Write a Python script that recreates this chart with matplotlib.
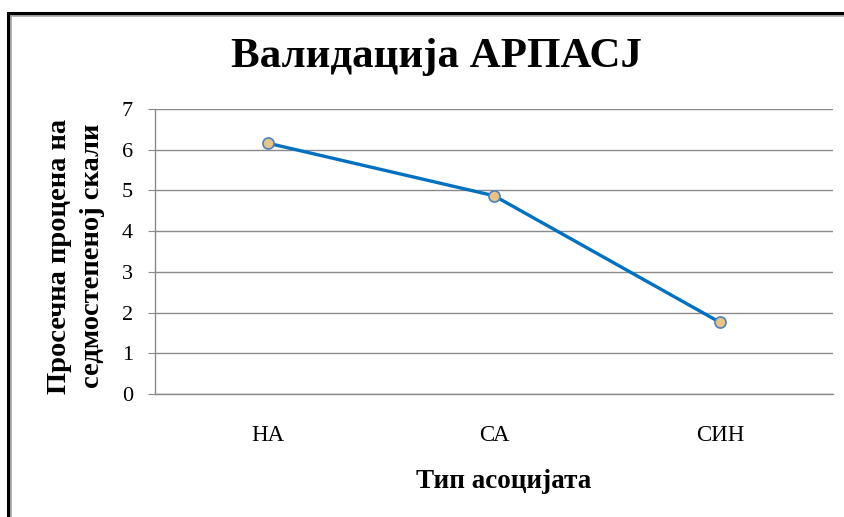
import matplotlib.pyplot as plt
from matplotlib.patches import Rectangle

# подаци
categories = ['НА', 'СА', 'СИН']
values = [6.16, 4.87, 1.76]
y_ticks = [0, 1, 2, 3, 4, 5, 6, 7]

plt.rcParams['font.family'] = ['Liberation Serif', 'DejaVu Serif']

fig = plt.figure(figsize=(8.45, 5.17), dpi=100)
W, H = 845, 517

# okvir grafikona (desna i donja ivica su van slike), sa sivom senkom iznutra
fig.patches.append(Rectangle((10.5 / W, -0.1), 1.2, 1 - 14.5 / H + 0.1,
                             transform=fig.transFigure, fill=False,
                             edgecolor='#a0a0a0', linewidth=1.8))
fig.patches.append(Rectangle((8 / W, -0.1), 1.2, 1 - 12.5 / H + 0.1,
                             transform=fig.transFigure, fill=False,
                             edgecolor='black', linewidth=2.2))

ax = fig.add_axes([155 / W, 1 - 394 / H, (833 - 155) / W, (394 - 109) / H])
x = list(range(len(categories)))
ax.plot(x, values, color='#0070C0', linewidth=2.4, marker='o', markersize=8,
        markerfacecolor='#E6C48A', markeredgecolor='#4F81BD', markeredgewidth=1.2,
        zorder=3)

ax.set_xlim(-0.5, len(categories) - 0.5)
ax.set_ylim(0, 7)
ax.set_yticks(y_ticks)
ax.set_xticks(x)
ax.set_xticklabels(categories)
ax.grid(axis='y', color='#8a8a8a', linewidth=1)
ax.set_axisbelow(True)
for s in ['top', 'right']:
    ax.spines[s].set_visible(False)
for s in ['left', 'bottom']:
    ax.spines[s].set_color('#8a8a8a')
    ax.spines[s].set_linewidth(1)
ax.tick_params(axis='y', length=5, color='#8a8a8a', labelsize=16, pad=11)
ax.tick_params(axis='x', length=0, labelsize=16.5, pad=22)

fig.text((232 + 640) / 2 / W, 1 - 57 / H, 'Валидација АРПАСЈ', ha='center', va='center',
         fontsize=31, fontweight='bold')
fig.text(76 / W, 1 - 256 / H, 'Просечна процена на\nседмостепеној скали', ha='center',
         va='center', rotation=90, fontsize=20.5, fontweight='bold', linespacing=1.4)
fig.text(504 / W, 1 - 481 / H, 'Тип асоцијата', ha='center', va='center',
         fontsize=19.5, fontweight='bold')

fig.savefig('out.png', dpi=100)
